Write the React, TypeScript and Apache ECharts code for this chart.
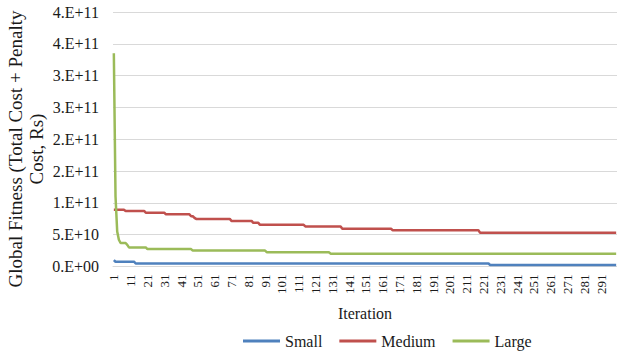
import React, { useEffect, useRef } from "react";
import * as echarts from "echarts";

// Iterations of the optimiser run
const ITERATION_COUNT = 300;
const iterations: string[] = Array.from({ length: ITERATION_COUNT }, (_, i) => String(i + 1));

// Y tick labels as printed by the spreadsheet number format (0 decimals in the mantissa)
const yTickLabels = ["0.E+00", "5.E+10", "1.E+11", "2.E+11", "2.E+11", "3.E+11", "3.E+11", "4.E+11", "4.E+11"];

// Best global fitness per problem size, as [first iteration, fitness];
// each value holds until the next entry improves on it.
const smallSteps: [number, number][] = [
  [1, 1.0e10],
  [2, 7.5e9],
  [14, 4.7e9],
  [225, 2.3e9],
];

const mediumSteps: [number, number][] = [
  [1, 8.93e10],
  [8, 8.73e10],
  [20, 8.46e10],
  [32, 8.2e10],
  [47, 7.9e10],
  [49, 7.65e10],
  [50, 7.48e10],
  [71, 7.17e10],
  [84, 6.86e10],
  [88, 6.55e10],
  [115, 6.29e10],
  [137, 5.93e10],
  [167, 5.71e10],
  [219, 5.31e10],
];

const largeSteps: [number, number][] = [
  [1, 3.35e11],
  [2, 1.1e11],
  [3, 5.5e10],
  [4, 4.2e10],
  [5, 3.7e10],
  [9, 3.4e10],
  [10, 3.0e10],
  [21, 2.74e10],
  [48, 2.5e10],
  [92, 2.25e10],
  [130, 2.02e10],
];

const SERIF = "Liberation Serif";
const TEXT = "#1a1a1a";
const GRID_LINE = "#d9d9d9";

function holdSteps(steps: [number, number][]): number[] {
  const out: number[] = [];
  let k = 0;
  for (let it = 1; it <= ITERATION_COUNT; it++) {
    while (k + 1 < steps.length && steps[k + 1][0] <= it) k++;
    out.push(steps[k][1]);
  }
  return out;
}

export default function App() {
  const ref = useRef<HTMLDivElement>(null);

  useEffect(() => {
    if (!ref.current) return;
    const chart = echarts.init(ref.current, undefined, { renderer: "svg" });
    const Y_STEP = 5e10;

    chart.setOption({
      animation: false,
      backgroundColor: "#ffffff",
      textStyle: { fontFamily: SERIF, color: TEXT },
      grid: { left: 113, right: 0, top: 12, bottom: 91.5, containLabel: false },
      legend: {
        left: 243,
        top: 333,
        padding: 0,
        icon: "rect",
        itemWidth: 37,
        itemHeight: 3,
        itemGap: 17,
        textStyle: { fontFamily: SERIF, fontSize: 16, color: TEXT },
        data: ["Small", "Medium", "Large"],
      },
      xAxis: {
        type: "category",
        data: iterations,
        boundaryGap: true,
        name: "Iteration",
        nameLocation: "middle",
        nameGap: 39,
        nameTextStyle: { fontFamily: SERIF, fontSize: 16, color: TEXT },
        axisLine: { show: true, lineStyle: { color: GRID_LINE, width: 1 } },
        axisTick: { show: false },
        axisLabel: {
          interval: 9,
          rotate: 90,
          margin: 8,
          fontFamily: SERIF,
          fontSize: 13,
          color: TEXT,
        },
        splitLine: { show: false },
      },
      yAxis: {
        type: "value",
        min: 0,
        max: 4e11,
        interval: Y_STEP,
        axisLine: { show: false },
        axisTick: { show: false },
        axisLabel: {
          margin: 14,
          fontFamily: SERIF,
          fontSize: 16,
          color: TEXT,
          formatter: (v: number) => yTickLabels[Math.round(v / Y_STEP)] ?? "",
        },
        splitLine: { show: true, lineStyle: { color: GRID_LINE, width: 1 } },
      },
      graphic: [
        {
          type: "text",
          x: 26,
          y: 149,
          rotation: Math.PI / 2,
          style: {
            text: "Global Fitness (Total Cost + Penalty\nCost, Rs)",
            fontFamily: SERIF,
            fontSize: 19,
            lineHeight: 21,
            fill: TEXT,
            align: "center",
            verticalAlign: "middle",
          },
        },
      ],
      series: [
        {
          name: "Small",
          type: "line",
          data: holdSteps(smallSteps),
          showSymbol: false,
          symbol: "none",
          color: "#4F81BD",
          lineStyle: { width: 2.5, color: "#4F81BD" },
        },
        {
          name: "Medium",
          type: "line",
          data: holdSteps(mediumSteps),
          showSymbol: false,
          symbol: "none",
          color: "#C0504D",
          lineStyle: { width: 2.5, color: "#C0504D" },
        },
        {
          name: "Large",
          type: "line",
          data: holdSteps(largeSteps),
          showSymbol: false,
          symbol: "none",
          color: "#9BBB59",
          lineStyle: { width: 2.5, color: "#9BBB59" },
        },
      ],
    });

    return () => chart.dispose();
  }, []);

  return (
    <div
      ref={ref}
      style={{ position: "fixed", left: 0, top: 0, width: 617, height: 358, background: "#fff" }}
    />
  );
}
